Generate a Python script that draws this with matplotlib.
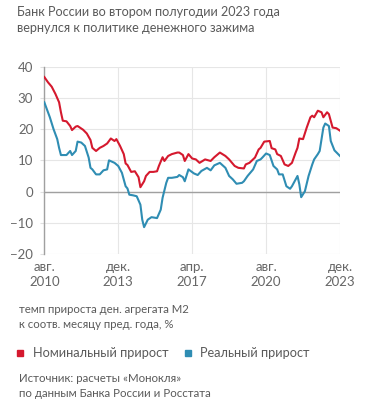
import matplotlib.pyplot as plt

# months since Aug 2010
nom_m = [0, 2, 4, 6, 8, 9, 10, 12, 14, 15, 17, 18, 21, 23, 25, 26, 28, 30, 32, 34,
         36, 38, 39, 41, 43, 44, 45, 47, 49, 51, 52, 54, 55, 57, 59, 61, 62, 64, 65, 67,
         69, 72, 73, 75, 76, 78, 80, 82, 84, 87, 90, 92, 95, 98, 100, 103, 105, 108, 109, 111,
         114, 116, 117, 119, 122, 123, 125, 126, 128, 130, 132, 134, 136, 137, 138, 140, 142, 144, 145, 146,
         148, 150, 151, 153, 154, 156, 158, 160]
nom_v = [36.7, 35.0, 33.6, 31.3, 28.6, 25.4, 22.7, 22.5, 21.0, 19.7, 20.8, 21.0, 19.8, 18.6, 16.5, 14.0, 13.0, 14.0, 14.6, 15.4,
         17.0, 16.2, 16.8, 14.6, 12.0, 9.0, 8.5, 6.3, 6.5, 4.6, 1.4, 3.3, 5.0, 6.3, 6.3, 6.5, 8.2, 11.0, 9.8, 11.4,
         12.0, 12.5, 12.5, 11.7, 9.8, 12.0, 10.6, 10.3, 9.2, 10.3, 9.8, 11.0, 12.5, 11.4, 10.3, 8.2, 7.6, 7.4, 8.7, 9.2,
         10.9, 13.5, 14.0, 16.0, 16.2, 13.9, 13.5, 12.0, 11.4, 8.7, 8.2, 9.2, 12.5, 14.0, 17.0, 16.8, 20.5, 23.8, 24.3, 23.8,
         25.9, 25.4, 23.8, 25.4, 24.8, 20.5, 20.3, 19.5]

real_m = [0, 2, 3, 5, 7, 8, 9, 12, 14, 15, 17, 18, 20, 22, 24, 25, 26, 28, 30, 32,
          34, 35, 38, 40, 42, 44, 45, 46, 48, 50, 52, 53, 54, 56, 58, 61, 63, 64, 66, 67,
          69, 72, 73, 75, 76, 78, 81, 83, 85, 88, 90, 92, 95, 98, 100, 102, 104, 107, 108, 110,
          113, 115, 117, 118, 120, 122, 124, 126, 127, 129, 131, 133, 134, 136, 137, 138, 139, 141, 143, 145,
          146, 148, 149, 151, 152, 154, 155, 157, 160]
real_v = [28.6, 25.4, 23.8, 20.0, 16.8, 14.0, 11.7, 11.7, 13.0, 11.7, 13.0, 16.0, 15.7, 14.6, 10.9, 7.6, 7.1, 5.5, 5.5, 6.8,
          7.1, 10.0, 9.2, 8.2, 6.0, 1.7, 1.0, -1.0, -1.2, -1.5, -4.2, -9.0, -11.4, -9.0, -8.2, -8.5, -5.8, -2.0, 2.8, 4.4,
          4.4, 4.7, 5.3, 4.6, 3.3, 7.1, 5.8, 5.3, 6.6, 7.6, 6.8, 8.4, 9.2, 7.6, 5.0, 3.9, 2.5, 2.8, 3.3, 5.0,
          7.1, 9.8, 10.3, 10.9, 12.2, 11.7, 8.2, 7.1, 5.5, 5.5, 1.7, 0.9, 1.7, 3.9, 5.0, 2.3, -1.8, 0.1, 5.0, 8.7,
          10.3, 12.0, 13.0, 20.5, 21.8, 21.0, 16.2, 13.2, 11.4]

tick_pos = [0, 40, 80, 120, 160]
tick_labels = ['авг.\n2010', 'дек.\n2013', 'апр.\n2017', 'авг.\n2020', 'дек.\n2023']
yticks = [-20, -10, 0, 10, 20, 30, 40]

RED = '#d5192e'
BLUE = '#2f8db3'
GREY = '#5a5a5a'
FONT = 'Lato'

plt.rcParams['font.family'] = [FONT, 'DejaVu Sans']

fig = plt.figure(figsize=(3.71, 4.15), dpi=100)
ax = fig.add_axes([44.3 / 371, 1 - 254 / 415, (340 - 44.3) / 371, (254 - 66.7) / 415])

ax.plot(nom_m, nom_v, color=RED, lw=1.5, solid_joinstyle='round', zorder=3)
ax.plot(real_m, real_v, color=BLUE, lw=1.5, solid_joinstyle='round', zorder=3)

ax.set_xlim(0, 160)
ax.set_ylim(-20, 40)
ax.set_xticks(tick_pos)
ax.set_xticklabels(tick_labels)
ax.set_yticks(yticks)
ax.grid(True, color='#e6e6e6', lw=0.8)
ax.axhline(0, color='#a0a0a0', lw=1.0, zorder=2)
for s in ['top', 'right', 'bottom']:
    ax.spines[s].set_visible(False)
ax.spines['left'].set_color('#a0a0a0')
ax.spines['left'].set_linewidth(1.0)
ax.tick_params(axis='y', length=3, color='#e0e0e0', labelsize=9.5, labelcolor='#666666', pad=5)
ax.tick_params(axis='x', length=0, labelsize=9.5, labelcolor='#666666', pad=5)
for lbl in ax.get_xticklabels():
    lbl.set_linespacing(1.3)

fig.text(17 / 371, 1 - 20 / 415, 'Банк России во втором полугодии 2023 года\nвернулся к политике денежного зажима',
         fontsize=9.1, color=GREY, va='center', linespacing=1.45)
fig.text(19 / 371, 1 - 317 / 415, 'темп прироста ден. агрегата М2\nк соотв. месяцу пред. года, %',
         fontsize=8.2, color=GREY, va='center', linespacing=1.55)
fig.patches.append(plt.Rectangle((17 / 371, 1 - 355.5 / 415), 6 / 371, 6 / 415,
                                 color=RED, transform=fig.transFigure, figure=fig))
fig.text(33 / 371, 1 - 352.5 / 415, 'Номинальный прирост', fontsize=9.2, color=GREY, va='center')
fig.patches.append(plt.Rectangle((185 / 371, 1 - 355.5 / 415), 6 / 371, 6 / 415,
                                 color=BLUE, transform=fig.transFigure, figure=fig))
fig.text(200 / 371, 1 - 352.5 / 415, 'Реальный прирост', fontsize=9.2, color=GREY, va='center')
fig.text(19 / 371, 1 - 386 / 415, 'Источник: расчеты «Монокля»\nпо данным Банка России и Росстата',
         fontsize=8.3, color=GREY, va='center', linespacing=1.55)

fig.savefig('out.png', dpi=100, facecolor='white')
